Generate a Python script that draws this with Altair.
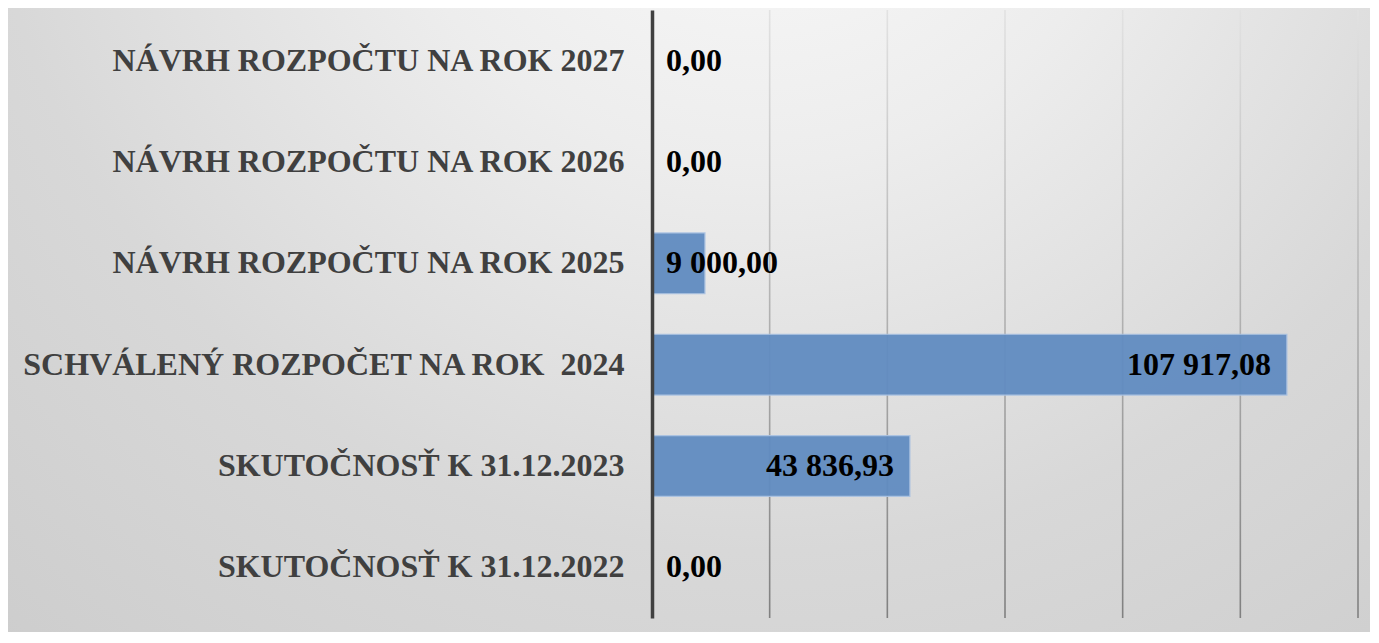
import altair as alt
import pandas as pd

categories = [
    "NÁVRH ROZPOČTU NA ROK 2027",
    "NÁVRH ROZPOČTU NA ROK 2026",
    "NÁVRH ROZPOČTU NA ROK 2025",
    "SCHVÁLENÝ ROZPOČET NA ROK\u00a0 2024",
    "SKUTOČNOSŤ K 31.12.2023",
    "SKUTOČNOSŤ K 31.12.2022",
]
values = [0, 0, 9000, 107917.08, 43836.93, 0]
value_labels = ["0,00", "0,00", "9 000,00", "107 917,08", "43 836,93", "0,00"]
label_inside = [False, False, False, True, True, False]
grid_ticks = [20000, 40000, 60000, 80000, 100000, 120000]

W, H = 706, 608
PAD = {"left": 644, "top": 2, "right": 12, "bottom": 14}

df = pd.DataFrame({"cat": categories, "value": values, "label": value_labels, "inside": label_inside})
df["base"] = 0
grid_df = pd.DataFrame({"g": grid_ticks})

FONT = "Liberation Serif"
FS = 32

bg_gradient = {
    "gradient": "radial",
    "x1": 0.55, "y1": 0.1, "r1": 0,
    "x2": 0.55, "y2": 0.1, "r2": 0.95,
    "stops": [
        {"offset": 0, "color": "#fcfcfc"},
        {"offset": 0.3, "color": "#ededed"},
        {"offset": 0.6, "color": "#d8d8d8"},
        {"offset": 1, "color": "#c9c9c9"},
    ],
}
grid_gradient = {
    "gradient": "linear",
    "x1": 0, "y1": 0, "x2": 0, "y2": 1,
    "stops": [
        {"offset": 0, "color": "#e2e2e2"},
        {"offset": 1, "color": "#808080"},
    ],
}

x_scale = alt.Scale(domain=[0, 120000], nice=False, zero=True)
y_enc = alt.Y(
    "cat:N",
    sort=categories,
    scale=alt.Scale(paddingInner=0.4, paddingOuter=0.2),
    axis=alt.Axis(
        title=None,
        ticks=False,
        grid=False,
        domain=True,
        domainColor="#404040",
        domainWidth=3.5,
        labelFont=FONT,
        labelFontWeight="bold",
        labelFontSize=FS,
        labelColor="#404040",
        labelPadding=28,
        labelLimit=800,
        zindex=2,
    ),
)

bg = alt.Chart(pd.DataFrame({"a": [0]})).mark_rect(fill=bg_gradient, strokeWidth=0).encode(
    x=alt.value(-PAD["left"]),
    x2=alt.value(W + PAD["right"]),
    y=alt.value(-PAD["top"]),
    y2=alt.value(H + PAD["bottom"]),
)

grid = alt.Chart(grid_df).mark_tick(
    orient="vertical", thickness=1.6, size=H, fill=grid_gradient, opacity=1
).encode(
    x=alt.X("g:Q", scale=x_scale, axis=None),
    y=alt.value(H / 2),
)

bars = alt.Chart(df).mark_bar(
    color="#618cc1", stroke="#aac2e2", strokeWidth=1.2, opacity=0.95
).encode(
    x=alt.X("value:Q", scale=x_scale, axis=None),
    y=y_enc,
    strokeOpacity=alt.condition("datum.value > 0", alt.value(1), alt.value(0)),
)

text_common = dict(baseline="middle", font=FONT, fontWeight="bold", fontSize=FS, color="#000000")

labels_out = alt.Chart(df).transform_filter("!datum.inside").mark_text(
    align="left", dx=14, **text_common
).encode(
    x=alt.X("base:Q", scale=x_scale, axis=None),
    y=y_enc,
    text="label:N",
)

labels_in = alt.Chart(df).transform_filter("datum.inside").mark_text(
    align="right", dx=-16, **text_common
).encode(
    x=alt.X("value:Q", scale=x_scale, axis=None),
    y=y_enc,
    text="label:N",
)

chart = alt.layer(bg, grid, bars, labels_out, labels_in).properties(
    width=W,
    height=H,
    padding=PAD,
    autosize=alt.AutoSizeParams(type="none"),
    background="#d4d4d4",
).configure_view(stroke=None)

chart.save("out.html", embed_options={"renderer": "svg", "actions": False})
